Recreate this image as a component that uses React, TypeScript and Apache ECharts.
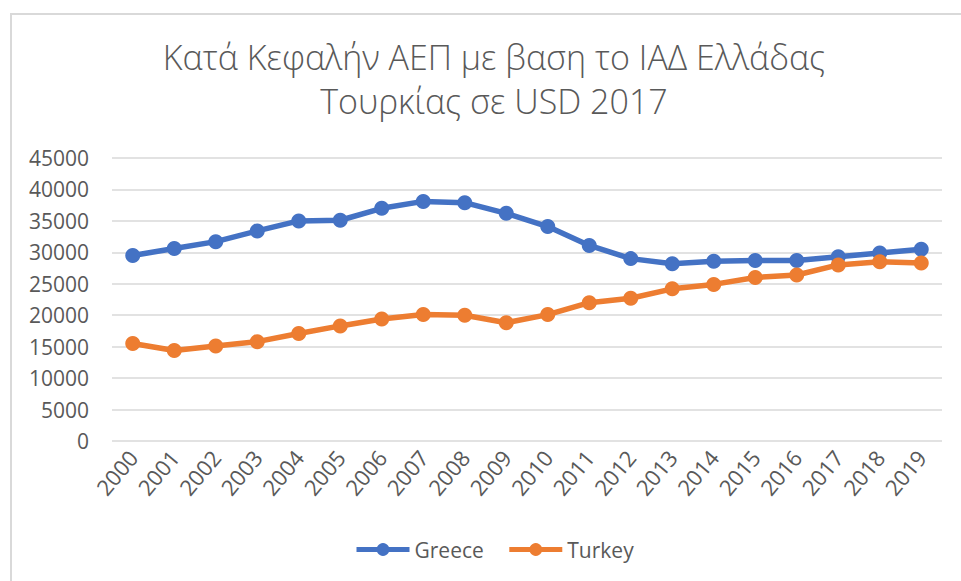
import React, { useEffect, useRef } from "react";
import * as echarts from "echarts";

const years = ["2000","2001","2002","2003","2004","2005","2006","2007","2008","2009","2010","2011","2012","2013","2014","2015","2016","2017","2018","2019"];
const greece = [29500,30600,31700,33400,35000,35100,37000,38100,37900,36200,34100,31100,29000,28200,28600,28700,28700,29300,29900,30500];
const turkey = [15500,14400,15100,15800,17100,18300,19400,20100,20000,18800,20100,22000,22700,24200,24900,26000,26400,28000,28500,28300];
const seriesNames = ["Greece", "Turkey"];
const titleText = "Κατά Κεφαλήν ΑΕΠ με βαση το ΙΑΔ Ελλάδας\nΤουρκίας σε USD 2017";

const FONT = "'Open Sans', 'Noto Sans', sans-serif";
const GREY = "#595959";

export default function App() {
  const ref = useRef<HTMLDivElement>(null);
  useEffect(() => {
    if (!ref.current) return;
    const chart = echarts.init(ref.current, null, { renderer: "svg" });
    chart.setOption({
      animation: false,
      backgroundColor: "#ffffff",
      textStyle: { fontFamily: FONT },
      graphic: [
        {
          type: "rect",
          shape: { x: 11, y: 14, width: 1000, height: 700 },
          style: { fill: "none", stroke: "#d9d9d9", lineWidth: 2 },
          silent: true,
        },
      ],
      title: {
        text: titleText,
        left: 489,
        textAlign: "center",
        top: 30,
        textStyle: {
          fontFamily: FONT,
          fontWeight: 300,
          fontSize: 34,
          lineHeight: 44,
          color: GREY,
        },
      },
      legend: {
        data: seriesNames,
        left: 349,
        top: 534,
        itemWidth: 53,
        itemHeight: 16,
        itemGap: 23,
        lineStyle: { width: 5 },
        textStyle: { fontFamily: FONT, fontSize: 21, color: GREY },
      },
      grid: { left: 112, right: 19, top: 158, bottom: 140, containLabel: false },
      xAxis: {
        type: "category",
        data: years,
        boundaryGap: true,
        axisLine: { show: false },
        axisTick: { show: false },
        axisLabel: {
          rotate: 50,
          margin: 12,
          interval: 0,
          fontFamily: FONT,
          fontSize: 22,
          color: GREY,
        },
      },
      yAxis: {
        type: "value",
        min: 0,
        max: 45000,
        interval: 5000,
        axisLine: { show: false },
        axisTick: { show: false },
        axisLabel: {
          margin: 23,
          fontFamily: FONT,
          fontSize: 21,
          color: GREY,
          formatter: (v: number) => String(v),
        },
        splitLine: { lineStyle: { color: "#d9d9d9", width: 1.5 } },
      },
      series: [
        {
          name: seriesNames[0],
          type: "line",
          data: greece,
          symbol: "circle",
          symbolSize: 15,
          itemStyle: { color: "#4472C4" },
          lineStyle: { color: "#4472C4", width: 5.5 },
        },
        {
          name: seriesNames[1],
          type: "line",
          data: turkey,
          symbol: "circle",
          symbolSize: 15,
          itemStyle: { color: "#ED7D31" },
          lineStyle: { color: "#ED7D31", width: 5.5 },
        },
      ],
    });
    return () => chart.dispose();
  }, []);
  return (
    <div
      ref={ref}
      style={{ position: "fixed", left: 0, top: 0, width: 961, height: 581 }}
    />
  );
}
